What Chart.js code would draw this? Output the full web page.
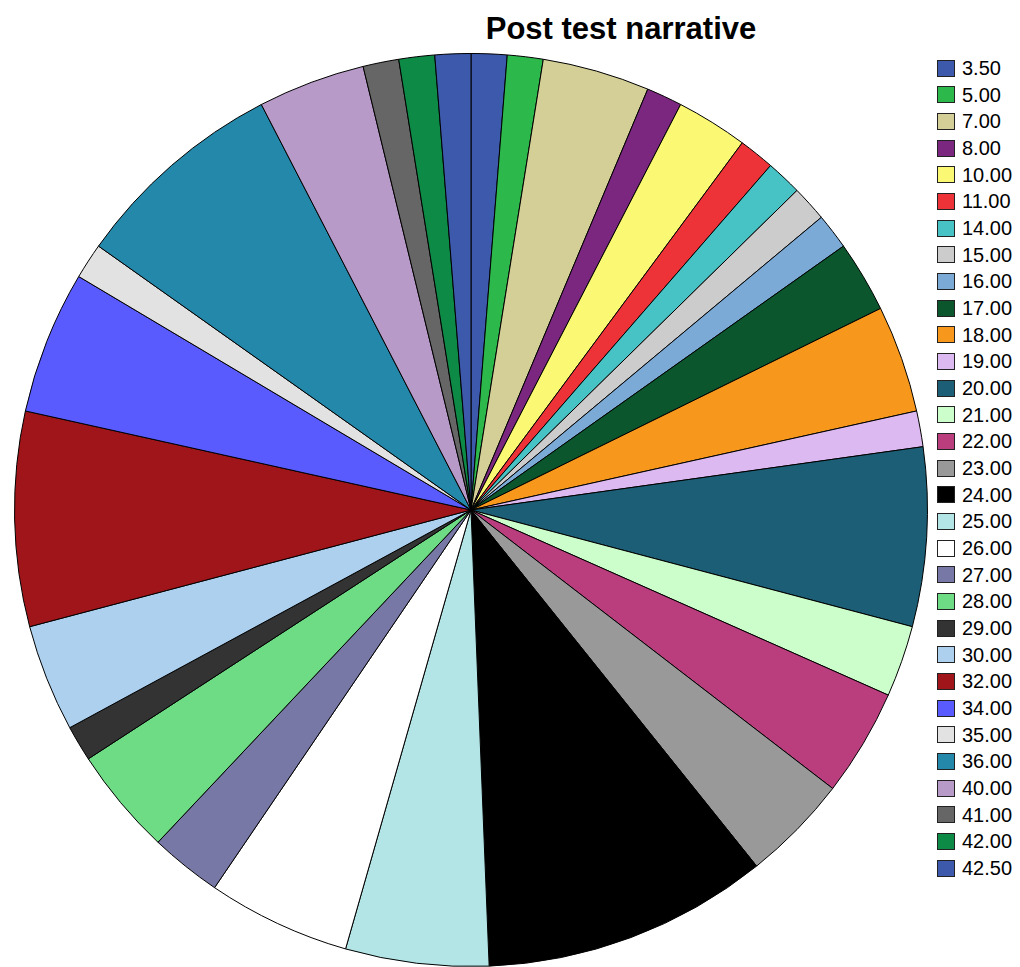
<!DOCTYPE html>
<html>
<head>
<meta charset="utf-8">
<script src="https://cdn.jsdelivr.net/npm/chart.js@4/dist/chart.umd.min.js"></script>
<style>
  html, body { margin: 0; padding: 0; background: #fff; }
  #wrap { position: relative; width: 1020px; height: 967px; overflow: hidden; font-family: "Liberation Sans", Arial, sans-serif; }
  #title { position: absolute; top: 13px; left: 421px; width: 400px; text-align: center; font-weight: bold; font-size: 31px; line-height: 31px; color: #000; white-space: nowrap; }
  #pieBox { position: absolute; left: 14px; top: 53px; width: 914px; height: 914px; }
  #legend { position: absolute; left: 937px; top: 0; }
  .li { position: absolute; left: 0; height: 20px; display: flex; align-items: center; white-space: nowrap; }
  .sw { width: 16px; height: 15px; border: 1.5px solid #222; box-sizing: content-box; margin-right: 7px; }
  .tx { font-size: 20px; line-height: 20px; color: #000; }
</style>
</head>
<body>
<div id="wrap">
  <div id="title">Post test narrative</div>
  <div id="pieBox"><canvas id="c"></canvas></div>
  <div id="legend"></div>
</div>
<script>
const categories = ["3.50","5.00","7.00","8.00","10.00","11.00","14.00","15.00","16.00","17.00","18.00","19.00","20.00","21.00","22.00","23.00","24.00","25.00","26.00","27.00","28.00","29.00","30.00","32.00","34.00","35.00","36.00","40.00","41.00","42.00","42.50"];
const counts = [1,1,3,1,2,1,1,1,1,2,3,1,5,2,3,3,8,4,4,2,3,1,3,6,4,1,6,3,1,1,1];
const colors = ["#3D59AB","#2DB84B","#D4CE97","#7B277F","#FBF874","#EE3338","#48C3C5","#CCCCCC","#7BAAD6","#0B562D","#F7981C","#DDB9F1","#1B5E76","#CCFECC","#BA3E7D","#999999","#000000","#B3E5E7","#FFFFFF","#7878A6","#6EDB85","#333333","#ACD0EE","#A0151A","#5A5BFF","#E2E2E2","#2388AA","#B89AC9","#666666","#0D8A45","#3D59AB"];

const legend = document.getElementById('legend');
categories.forEach((lab, i) => {
  const d = document.createElement('div');
  d.className = 'li';
  d.style.top = (58 + i * 26.67) + 'px';
  const sw = document.createElement('div');
  sw.className = 'sw';
  sw.style.background = colors[i];
  const tx = document.createElement('span');
  tx.className = 'tx';
  tx.textContent = lab;
  d.appendChild(sw); d.appendChild(tx);
  legend.appendChild(d);
});

new Chart(document.getElementById('c'), {
  type: 'pie',
  data: {
    labels: categories,
    datasets: [{
      data: counts,
      backgroundColor: colors,
      borderColor: '#000',
      borderWidth: 1
    }]
  },
  options: {
    responsive: true,
    maintainAspectRatio: false,
    devicePixelRatio: 1,
    animation: false,
    layout: { padding: 0 },
    plugins: { legend: { display: false }, title: { display: false }, tooltip: { enabled: false } }
  }
});
</script>
</body>
</html>
